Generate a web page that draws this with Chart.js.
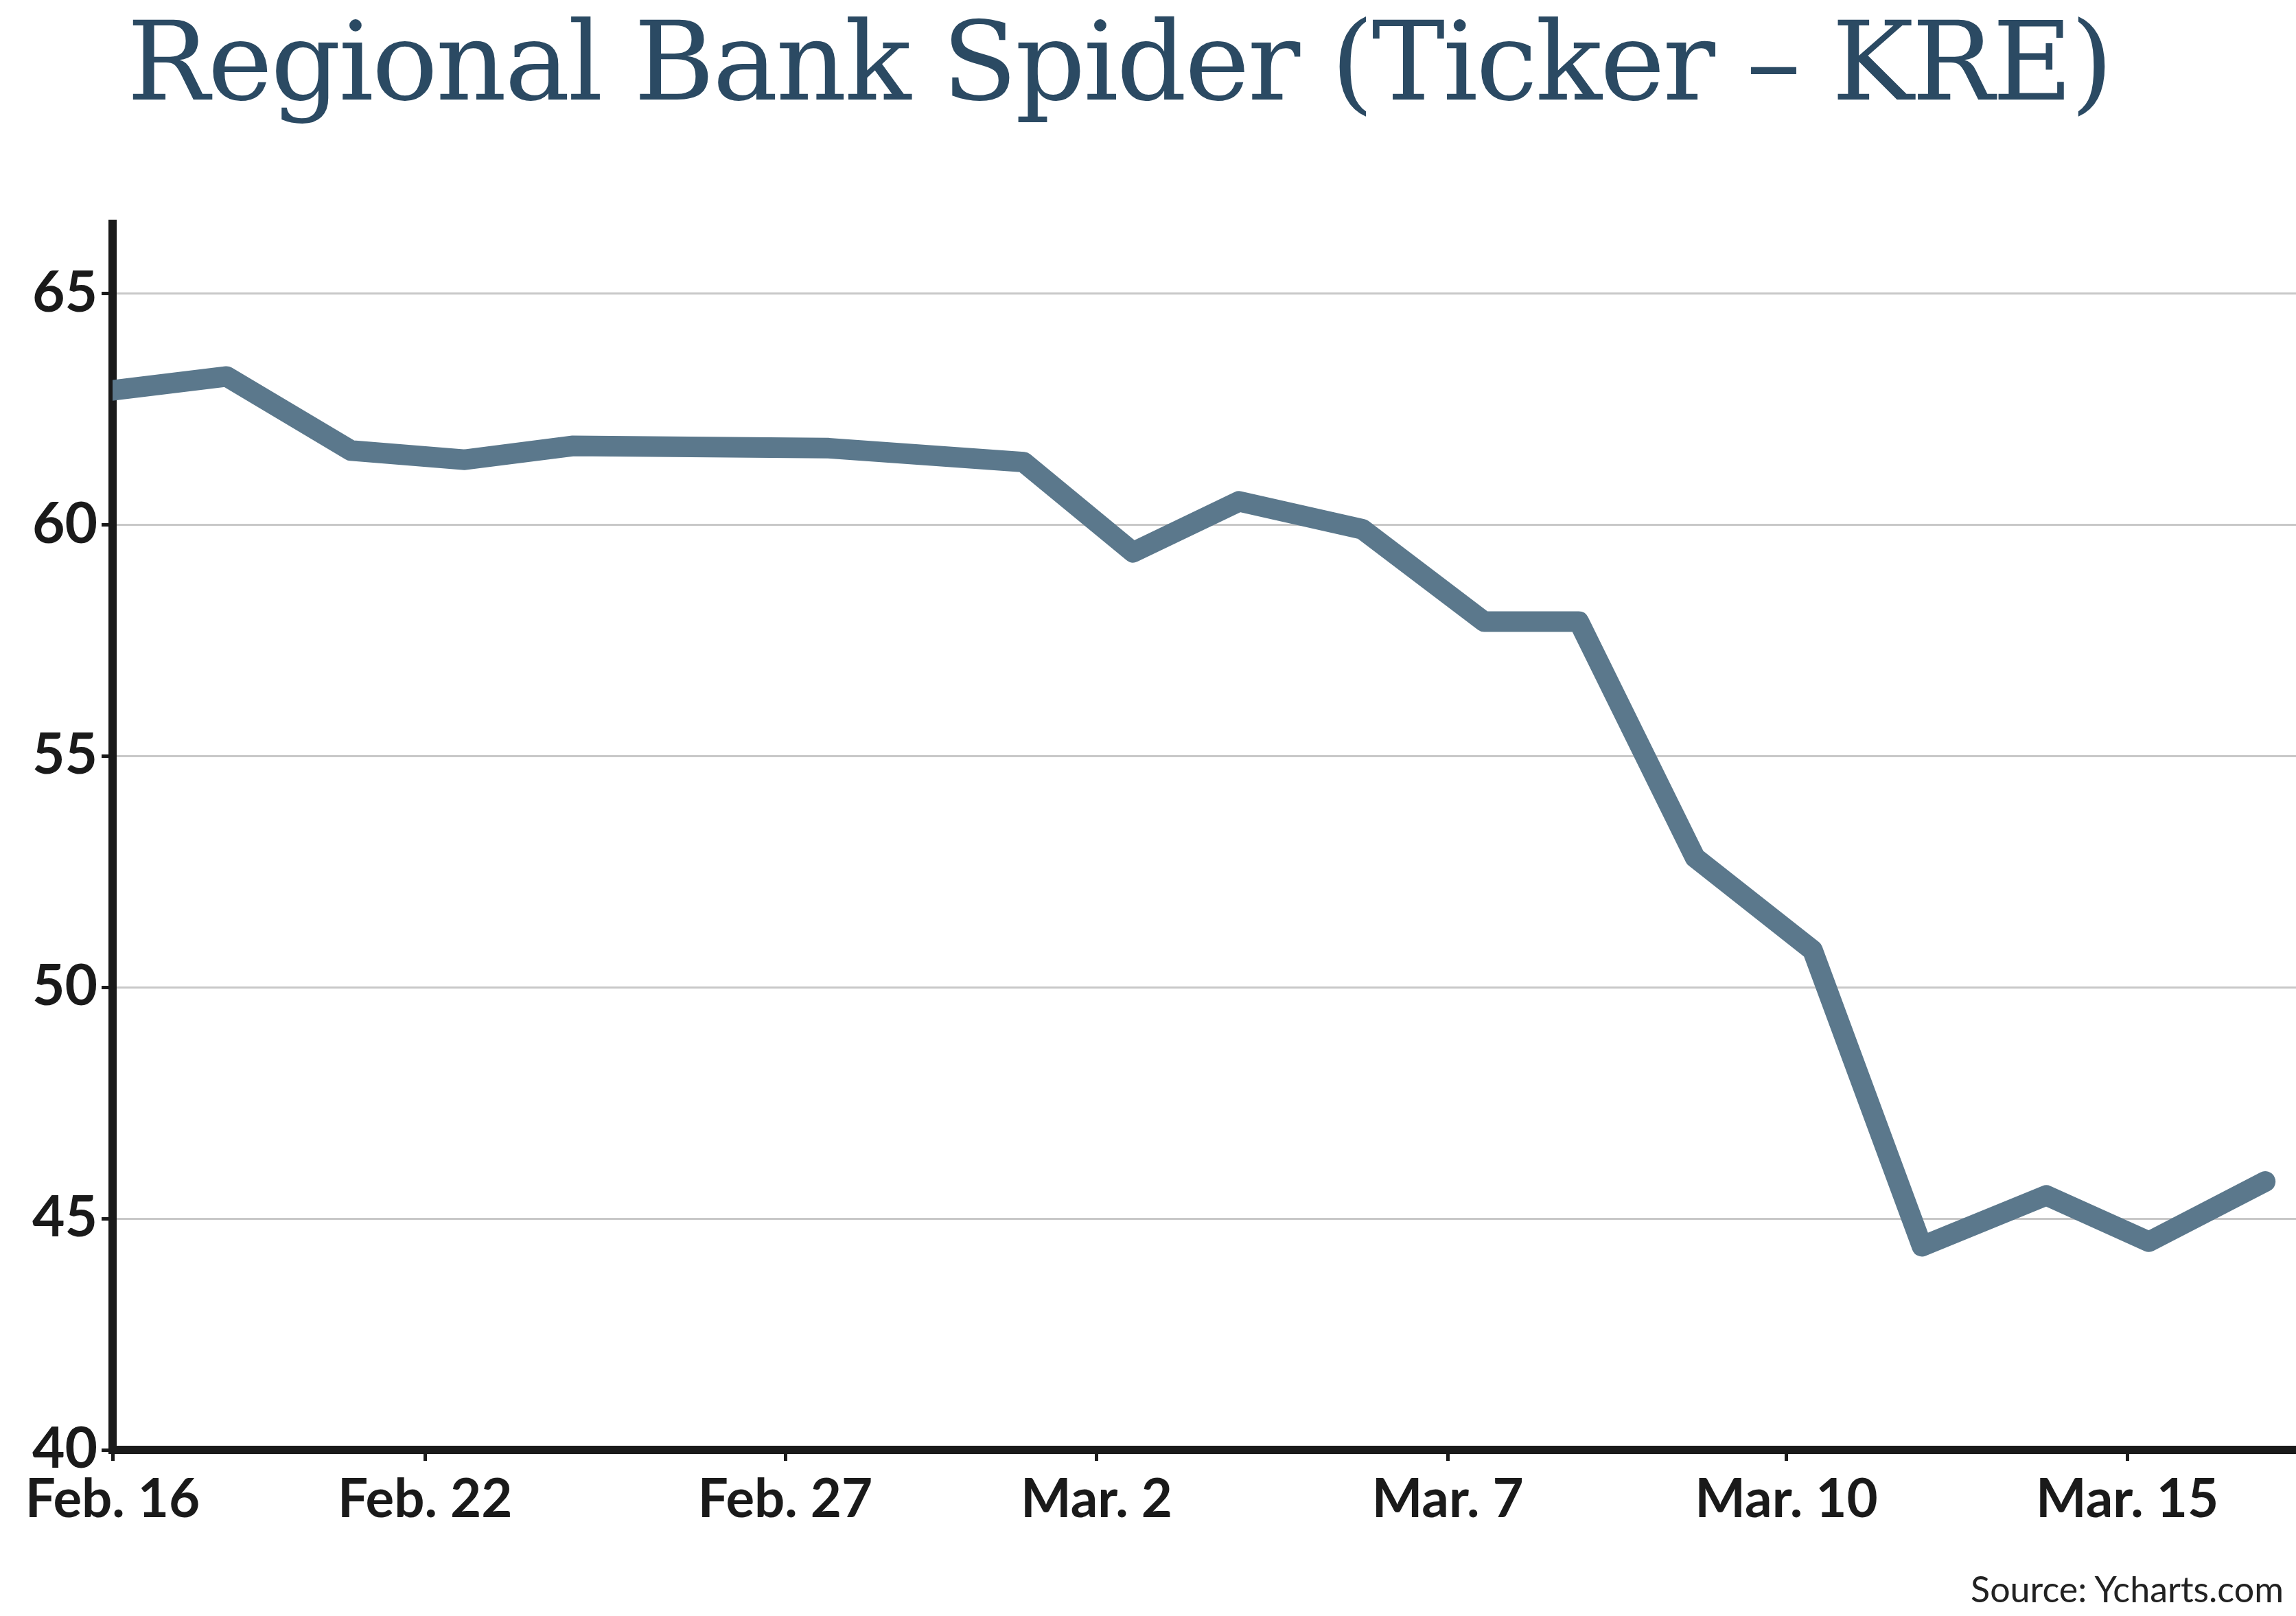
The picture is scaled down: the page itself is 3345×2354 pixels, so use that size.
<!DOCTYPE html>
<html><head><meta charset="utf-8">
<script src="https://cdn.jsdelivr.net/npm/chart.js@4"></script>
<style>
html,body{margin:0;padding:0;background:#fff;width:3345px;height:2354px;overflow:hidden;position:relative}
#title{position:absolute;left:185px;top:-4px;font-family:"DejaVu Serif",serif;font-size:160px;color:#2b4a63;white-space:nowrap;letter-spacing:-3px}
#src{position:absolute;right:18px;top:2283px;font-family:Lato,sans-serif;font-size:52px;color:#222}
#c{position:absolute;left:0;top:0}
</style></head><body>
<canvas id="c" width="3345" height="2354"></canvas>
<div id="title">Regional Bank Spider (Ticker – KRE)</div>
<div id="src">Source: Ycharts.com</div>
<script>
const xPositions=[0,1.0,2.09,3.09,4.04,6.28,7.99,8.95,9.88,10.96,12.03,12.86,13.88,14.91,15.87,16.96,17.86,18.88];
const prices=[62.9,63.2,61.6,61.4,61.7,61.65,61.35,59.4,60.5,59.9,57.9,57.9,52.8,50.8,44.4,45.5,44.5,45.8];
const tickPositions=[0,2.74,5.9,8.63,11.71,14.68,17.67];
const tickLabels=["Feb. 16","Feb. 22","Feb. 27","Mar. 2","Mar. 7","Mar. 10","Mar. 15"];
const yTicks=[40,45,50,55,60,65];
Chart.defaults.font.family="Lato";
new Chart(document.getElementById('c'),{type:'line',
data:{datasets:[{data:xPositions.map((x,i)=>({x,y:prices[i]})),borderColor:'#5b788c',borderWidth:30,pointRadius:0,borderCapStyle:'round',borderJoinStyle:'round',tension:0}]},
options:{responsive:false,animation:false,layout:{padding:{top:326,right:0,left:0,bottom:0}},
plugins:{legend:{display:false},tooltip:{enabled:false}},
scales:{
x:{type:'linear',min:0,max:19.15,
afterBuildTicks:s=>{s.ticks=tickPositions.map(v=>({value:v}));},
afterFit:s=>{s.height=242;},
ticks:{callback:(v)=>{const i=tickPositions.indexOf(v);return i>=0?tickLabels[i]:'';},color:'#1a1a1a',font:{size:78,weight:'bold'},maxRotation:0,autoSkip:false,padding:10},
grid:{drawOnChartArea:false,drawTicks:true,tickLength:16,color:'#1a1a1a',lineWidth:5},
border:{color:'#1a1a1a',width:12}},
y:{min:40,max:66.5,
afterBuildTicks:s=>{s.ticks=yTicks.map(v=>({value:v}));},
afterFit:s=>{s.width=164;},
ticks:{color:'#1a1a1a',font:{size:82,weight:'bold'},padding:6},
grid:{color:'#c8c8c8',lineWidth:3,tickLength:16,tickColor:'#1a1a1a',tickWidth:5},
border:{color:'#1a1a1a',width:12}}}}});
</script></body></html>
